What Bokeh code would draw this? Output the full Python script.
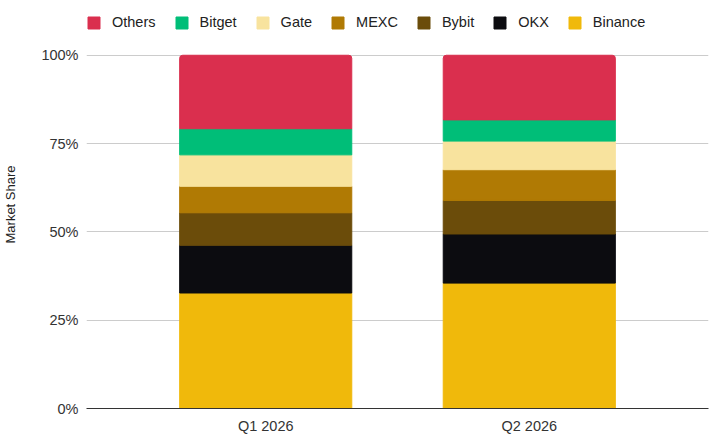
from bokeh.plotting import figure
from bokeh.models import FactorRange, Range1d, Legend, LegendItem, FixedTicker, PrintfTickFormatter
from bokeh.embed import file_html
from bokeh.resources import INLINE

# market share per quarter, percent
quarters = ["Q1 2026", "Q2 2026"]
exchanges = ["Binance", "OKX", "Bybit", "MEXC", "Gate", "Bitget", "Others"]
binance = [32.7, 35.5]
okx = [13.5, 13.9]
bybit = [9.2, 9.5]
mexc = [7.5, 8.7]
gate = [8.9, 8.1]
bitget = [7.4, 6.0]
others = [20.8, 18.3]
y_ticks = [0, 25, 50, 75, 100]

colors = ["#F0B90B", "#0C0C10", "#6B4C0A", "#B07A04", "#F8E39E", "#00BE78", "#DA2F4E"]
FONT = "Liberation Sans"

data = {"quarter": quarters, "Binance": binance, "OKX": okx, "Bybit": bybit,
        "MEXC": mexc, "Gate": gate, "Bitget": bitget, "Others": others}

# headroom above 100% holds the legend
p = figure(x_range=FactorRange(*quarters, range_padding=0.18), y_range=Range1d(0, 115.5),
           width=720, height=436, output_backend="svg", toolbar_location=None,
           min_border_top=0, min_border_right=12, min_border_left=0, min_border_bottom=0)

rs = p.vbar_stack(exchanges, x="quarter", width=0.653, color=colors, source=data)
rs[-1].glyph.border_radius = (3, 3, 0, 0)

p.outline_line_color = None
p.xgrid.grid_line_color = None
p.ygrid.grid_line_color = "#cccccc"
p.ygrid.ticker = FixedTicker(ticks=y_ticks)

p.yaxis.ticker = FixedTicker(ticks=y_ticks)
p.yaxis.formatter = PrintfTickFormatter(format="%d%%")
p.yaxis.axis_line_color = None
p.yaxis.major_tick_line_color = None
p.yaxis.minor_tick_line_color = None
p.yaxis.major_tick_out = 0
p.yaxis.minor_tick_out = 0
p.yaxis.major_label_standoff = 8
p.yaxis.axis_label = "Market Share"
p.yaxis.axis_label_standoff = 20
p.yaxis.axis_label_text_font = FONT
p.yaxis.axis_label_text_font_size = "13px"
p.yaxis.axis_label_text_font_style = "normal"
p.yaxis.axis_label_text_color = "#222222"

p.xaxis.axis_line_color = "#333333"
p.xaxis.major_tick_line_color = None
p.xaxis.minor_tick_line_color = None
p.xaxis.major_tick_out = 0
p.xaxis.minor_tick_out = 0
p.xaxis.major_label_standoff = 9
p.xaxis.axis_label_standoff = 0

for ax in (p.xaxis, p.yaxis):
    ax.major_label_text_font = FONT
    ax.major_label_text_font_size = "14.5px"
    ax.major_label_text_color = "#333333"

items = [LegendItem(label=name, renderers=[r]) for name, r in reversed(list(zip(exchanges, rs)))]
legend = Legend(items=items, orientation="horizontal", location=(0, 377.6),
                border_line_color=None, background_fill_alpha=0,
                label_text_font=FONT, label_text_font_size="14.5px", label_text_color="#222222",
                glyph_width=15, glyph_height=15, label_standoff=11, spacing=18,
                padding=0, margin=0)
p.add_layout(legend, "center")

open("out.html", "w").write(file_html(p, INLINE))
